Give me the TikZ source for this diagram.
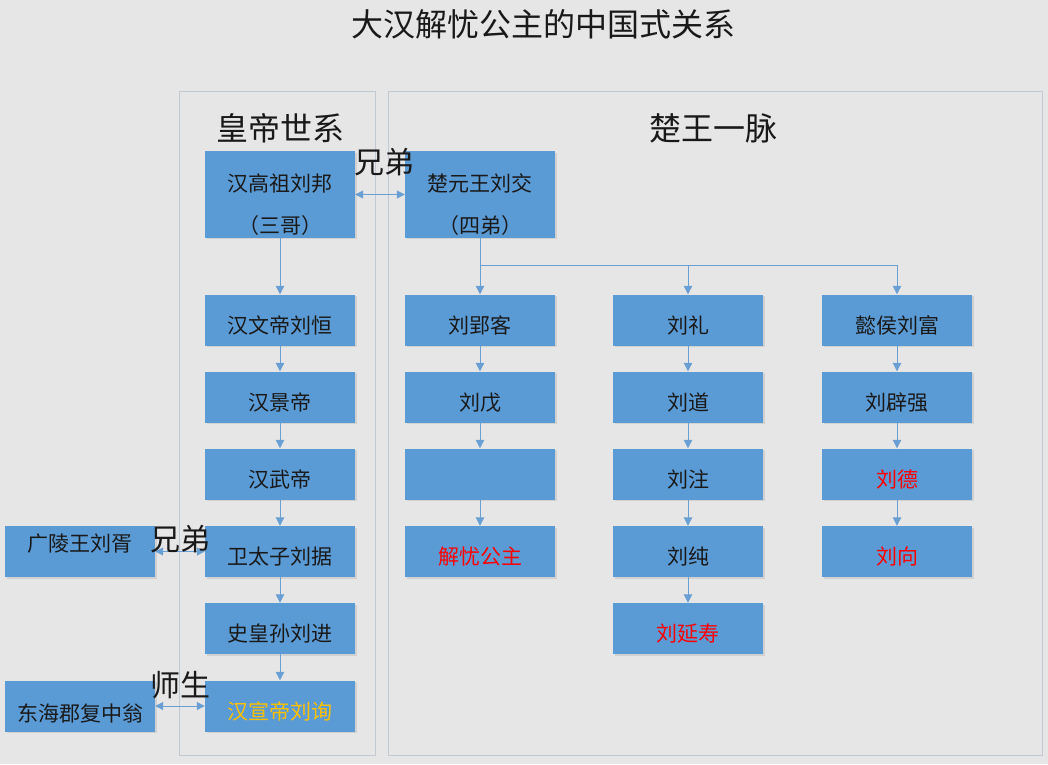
\documentclass[tikz,border=0pt]{standalone}
\usepackage{fontspec}
\setmainfont{Noto Sans CJK SC}
\usetikzlibrary{arrows.meta}
\usetikzlibrary{shadows}
\definecolor{paper}{HTML}{E6E6E6}
\definecolor{frameline}{HTML}{C3C9D3}
\definecolor{boxblue}{HTML}{5B9BD5}
\definecolor{lineblue}{HTML}{6A9FD4}
\definecolor{gold}{HTML}{FFC000}
\newcommand{\empX}{280}
\newcommand{\chuX}{480}
\newcommand{\liX}{688}
\newcommand{\fuX}{897}
\newcommand{\outX}{80}
\tikzstyle{scene}=[x=1pt, y=-1pt]
\tikzstyle{panel}=[draw=frameline, line width=1pt]
\tikzstyle{head}=[font=\fontsize{32}{38}\selectfont, text=black!90]
\tikzstyle{person}=[fill=boxblue, minimum width=150pt, minimum height=51pt, inner sep=2pt, text=black!90, font=\fontsize{21}{42}\selectfont, drop shadow={shadow xshift=1.5pt, shadow yshift=-1.5pt, opacity=.2}]
\tikzstyle{one}=[person, text height=28pt, text depth=2pt]
\tikzstyle{tallperson}=[person, minimum height=86pt, align=center]
\tikzstyle{pipe}=[draw=lineblue, line width=1pt]
\tikzstyle{edge}=[pipe, -{Triangle[length=8.5pt,width=8.5pt]}]
\tikzstyle{bothedge}=[pipe, {Triangle[length=8pt,width=8pt]}-{Triangle[length=8pt,width=8pt]}]
\tikzstyle{tag}=[midway, inner sep=0pt, text=black!90, font=\fontsize{30}{36}\selectfont]

\begin{document}
\begin{tikzpicture}[scene]
\useasboundingbox (0,0) rectangle (1048,764);
\fill[paper] (0,0) rectangle (1048,764);
\draw (543,24) node[head] (title) {大汉解忧公主的中国式关系};

%The two lines of descent
\draw[panel] (179,91) rectangle (375,755);
\draw[panel] (388,91) rectangle (1042,755);
\draw (280.5,128) node[head] (emperors) {皇帝世系};
\draw (713,128) node[head] (chuwang) {楚王一脉};

\draw (\empX,194.5) node[tallperson] (gaozu) {\rule{0pt}{38pt}汉高祖刘邦\\（三哥）};
\draw (\empX,320) node[one] (wendi) {汉文帝刘恒};
\draw (\empX,397) node[one] (jingdi) {汉景帝};
\draw (\empX,474) node[one] (wudi) {汉武帝};
\draw (\empX,551.5) node[one] (weitaizi) {卫太子刘据};
\draw (\empX,628.5) node[one] (shihuangsun) {史皇孙刘进};
\draw (\empX,706) node[one, text=gold] (xuandi) {汉宣帝刘询};

\draw (\outX,551.5) node[one, text height=14pt, text depth=15pt] (guangling) {广陵王刘胥};
\draw (\outX,706) node[one, text height=30pt, text depth=0pt] (donghai) {东海郡复中翁};

\draw (\chuX,194.5) node[tallperson] (yuanwang) {\rule{0pt}{38pt}楚元王刘交\\（四弟）};
\draw (\chuX,320) node[one] (yingke) {刘郢客};
\draw (\chuX,397) node[one] (liuwu) {刘戊};
\draw (\chuX,474) node[one] (blank) {};
\draw (\chuX,551.5) node[one, text=red] (jieyou) {解忧公主};

\draw (\liX,320) node[one] (liuli) {刘礼};
\draw (\liX,397) node[one] (liudao) {刘道};
\draw (\liX,474) node[one] (liuzhu) {刘注};
\draw (\liX,551.5) node[one] (liuchun) {刘纯};
\draw (\liX,628.5) node[one, text=red] (yanshou) {刘延寿};

\draw (\fuX,320) node[one] (liufu) {懿侯刘富};
\draw (\fuX,397) node[one] (piqiang) {刘辟强};
\draw (\fuX,474) node[one, text=red] (liude) {刘德};
\draw (\fuX,551.5) node[one, text=red] (liuxiang) {刘向};

\draw[edge] (gaozu) -- (wendi);
\draw[edge] (wendi) -- (jingdi);
\draw[edge] (jingdi) -- (wudi);
\draw[edge] (wudi) -- (weitaizi);
\draw[edge] (weitaizi) -- (shihuangsun);
\draw[edge] (shihuangsun) -- (xuandi);

%The fork under the king of Chu
\coordinate (fork) at (\chuX,265);
\draw[edge] (yuanwang) -- (yingke);
\draw[pipe] (fork) -- (fork -| liufu);
\draw[edge] (fork -| liuli) -- (liuli);
\draw[edge] (fork -| liufu) -- (liufu);

\draw[edge] (yingke) -- (liuwu);
\draw[edge] (liuwu) -- (blank);
\draw[edge] (blank) -- (jieyou);
\draw[edge] (liuli) -- (liudao);
\draw[edge] (liudao) -- (liuzhu);
\draw[edge] (liuzhu) -- (liuchun);
\draw[edge] (liuchun) -- (yanshou);
\draw[edge] (liufu) -- (piqiang);
\draw[edge] (piqiang) -- (liude);
\draw[edge] (liude) -- (liuxiang);

\draw[bothedge] (gaozu) -- (yuanwang) node[tag, xshift=4pt, yshift=32pt] {兄弟};
\draw[bothedge] (guangling) -- (weitaizi) node[tag, yshift=12.5pt] {兄弟};
\draw[bothedge] (donghai) -- (xuandi) node[tag, yshift=21pt] {师生};
\end{tikzpicture}
\end{document}
